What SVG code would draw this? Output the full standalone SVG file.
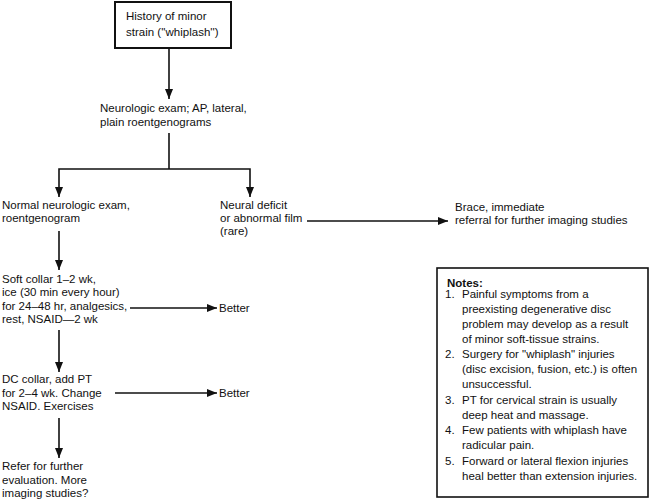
<svg xmlns="http://www.w3.org/2000/svg" width="650" height="500" viewBox="0 0 650 500">
<defs>
<marker id="ah" markerUnits="userSpaceOnUse" markerWidth="10" markerHeight="8" refX="10" refY="4" orient="auto">
<path d="M0,0 L10,4 L0,8 z" fill="#111"/>
</marker>
<style>
text{font-family:"Liberation Sans",Arial,sans-serif;font-size:11.5px;fill:#111}
.c{stroke:#111;stroke-width:1.6;fill:none}
.a{marker-end:url(#ah)}
.box{fill:#fff;stroke:#111;stroke-width:2}
.nb{fill:#fff;stroke:#111;stroke-width:1.6}
.b{font-weight:bold}
</style>
</defs>
<rect width="650" height="500" fill="#fff"/>
<g id="connectors">
<line class="c a" x1="169" y1="48" x2="169" y2="99"/>
<polyline class="c" points="169,133 169,169"/>
<polyline class="c a" points="169,169 59,169 59,197"/>
<polyline class="c a" points="169,169 250,169 250,197"/>
<line class="c a" x1="307" y1="221" x2="448" y2="221"/>
<line class="c a" x1="59" y1="231" x2="59" y2="270"/>
<line class="c a" x1="130" y1="308" x2="217" y2="308"/>
<line class="c a" x1="59" y1="330" x2="59" y2="372"/>
<line class="c a" x1="115" y1="393" x2="217" y2="393"/>
<line class="c a" x1="59" y1="418" x2="59" y2="458"/>
</g>
<g id="history">
<rect class="box" x="115" y="2" width="116" height="46"/>
<text x="126" y="20">History of minor</text>
<text x="126" y="36">strain (''whiplash'')</text>
</g>
<g id="neuroexam">
<text x="100" y="112">Neurologic exam; AP, lateral,</text>
<text x="100" y="126">plain roentgenograms</text>
</g>
<g id="normal">
<text x="2" y="209">Normal neurologic exam,</text>
<text x="2" y="222">roentgenogram</text>
</g>
<g id="deficit">
<text x="220" y="209">Neural deficit</text>
<text x="220" y="222">or abnormal film</text>
<text x="220" y="235">(rare)</text>
</g>
<g id="brace">
<text x="455" y="211">Brace, immediate</text>
<text x="455" y="224">referral for further imaging studies</text>
</g>
<g id="softcollar">
<text x="2" y="283">Soft collar 1–2 wk,</text>
<text x="2" y="296">ice (30 min every hour)</text>
<text x="2" y="310">for 24–48 hr, analgesics,</text>
<text x="2" y="323">rest, NSAID—2 wk</text>
</g>
<g id="better1">
<text x="219" y="312">Better</text>
</g>
<g id="dccollar">
<text x="2" y="383">DC collar, add PT</text>
<text x="2" y="397">for 2–4 wk. Change</text>
<text x="2" y="410">NSAID. Exercises</text>
</g>
<g id="better2">
<text x="219" y="397">Better</text>
</g>
<g id="refer">
<text x="2" y="470">Refer for further</text>
<text x="2" y="484">evaluation. More</text>
<text x="2" y="497">imaging studies?</text>
</g>
<g id="notes">
<rect class="nb" x="437" y="268" width="211" height="229"/>
<text class="b" x="447" y="287">Notes:</text>
<text x="445" y="298">1.</text>
<text x="462" y="298">Painful symptoms from a</text>
<text x="462" y="313">preexisting degenerative disc</text>
<text x="462" y="328">problem may develop as a result</text>
<text x="462" y="343">of minor soft-tissue strains.</text>
<text x="445" y="358">2.</text>
<text x="462" y="358">Surgery for "whiplash" injuries</text>
<text x="462" y="373">(disc excision, fusion, etc.) is often</text>
<text x="462" y="388">unsuccessful.</text>
<text x="445" y="404">3.</text>
<text x="462" y="404">PT for cervical strain is usually</text>
<text x="462" y="419">deep heat and massage.</text>
<text x="445" y="434">4.</text>
<text x="462" y="434">Few patients with whiplash have</text>
<text x="462" y="449">radicular pain.</text>
<text x="445" y="465">5.</text>
<text x="462" y="465">Forward or lateral flexion injuries</text>
<text x="462" y="480">heal better than extension injuries.</text>
</g>
</svg>
